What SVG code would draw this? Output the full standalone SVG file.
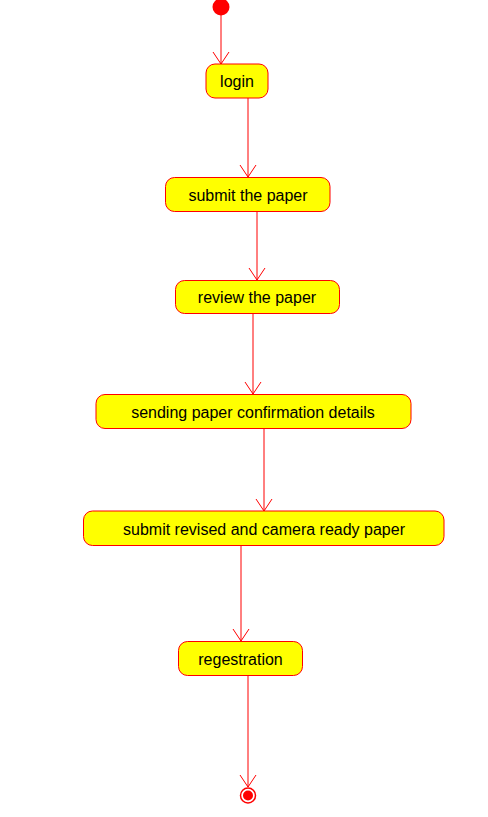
<svg xmlns="http://www.w3.org/2000/svg" width="488" height="817" viewBox="0 0 488 817">
<style>
.n rect{fill:#FFFF00;stroke:#FF0000;stroke-width:1}
.n text{font-family:"Liberation Sans",Arial,sans-serif;font-size:16px;fill:#000;text-anchor:middle}
.c line{stroke:#FF0000;stroke-width:1}
.c path{fill:none;stroke:#FF0000;stroke-width:1}
</style>
<rect width="488" height="817" fill="#fff"/>
<g id="start"><circle cx="221" cy="7" r="8.5" fill="#FF0000"/></g>
<g id="login" class="n"><rect x="206" y="64" width="62" height="34" rx="9"/><text x="237" y="87">login</text></g>
<g id="submit" class="n"><rect x="165.5" y="177.5" width="164.5" height="34" rx="9"/><text x="248" y="200.5">submit the paper</text></g>
<g id="review" class="n"><rect x="175.5" y="280.5" width="164" height="33" rx="9"/><text x="257" y="303">review the paper</text></g>
<g id="sending" class="n"><rect x="96" y="394.5" width="315" height="34" rx="9"/><text x="253" y="417.5">sending paper confirmation details</text></g>
<g id="revised" class="n"><rect x="83.5" y="511" width="360.5" height="34.5" rx="9"/><text x="264" y="534.5">submit revised and camera ready paper</text></g>
<g id="regestration" class="n"><rect x="178.5" y="641.5" width="124" height="34" rx="9"/><text x="240.5" y="664.5">regestration</text></g>
<g id="end"><circle cx="248" cy="795.5" r="7.5" fill="none" stroke="#FF0000" stroke-width="1.5"/><circle cx="248" cy="795.5" r="5" fill="#FF0000"/></g>
<g class="c" id="connectors">
<line x1="221" y1="15" x2="221" y2="64"/><path d="M213,52 L221,64 L229,52"/>
<line x1="248" y1="98" x2="248" y2="177"/><path d="M240,165 L248,177 L256,165"/>
<line x1="257" y1="212" x2="257" y2="280"/><path d="M249,268 L257,280 L265,268"/>
<line x1="253" y1="314" x2="253" y2="394"/><path d="M245,382 L253,394 L261,382"/>
<line x1="264" y1="429" x2="264" y2="511"/><path d="M256,499 L264,511 L272,499"/>
<line x1="241" y1="546" x2="241" y2="641"/><path d="M233,629 L241,641 L249,629"/>
<line x1="248" y1="676" x2="248" y2="787"/><path d="M240,775 L248,787 L256,775"/>
</g>
</svg>
